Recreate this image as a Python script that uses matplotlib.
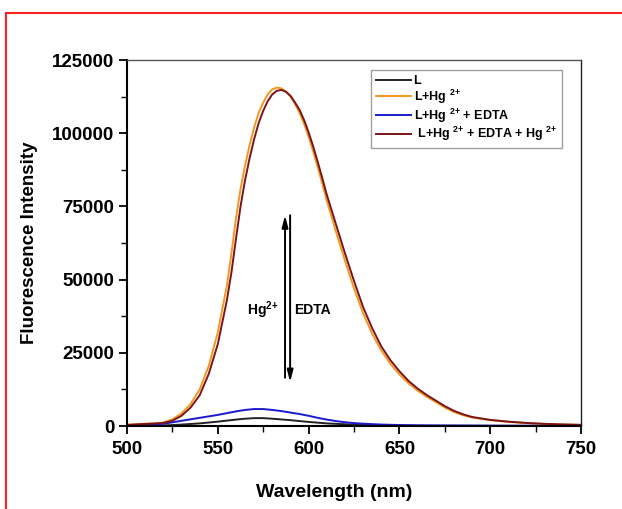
import matplotlib
matplotlib.use("Agg")
import matplotlib.pyplot as plt
from matplotlib.patches import Rectangle
from matplotlib.ticker import MultipleLocator

plt.rcParams["font.family"] = ["Liberation Sans", "DejaVu Sans"]
plt.rcParams["font.weight"] = "bold"
plt.rcParams["mathtext.fontset"] = "custom"
plt.rcParams["mathtext.rm"] = "Liberation Sans:bold"
plt.rcParams["mathtext.bf"] = "Liberation Sans:bold"
plt.rcParams["mathtext.default"] = "bf"

# spectra (wavelength in nm, intensity in a.u.)
wl_weak = [500, 505, 510, 515, 520, 525, 530, 535, 540, 545, 550, 555, 560,
           565, 570, 575, 580, 585, 590, 595, 600, 605, 610, 615, 620, 625,
           630, 635, 640, 645, 650, 655, 660, 665, 670, 675, 680, 685, 690,
           700, 710, 720, 730, 740, 750]

ligand = [0, 20, 50, 100, 200, 330, 500, 700, 900, 1200, 1500, 1850, 2200,
          2500, 2700, 2700, 2500, 2250, 2000, 1700, 1400, 1150, 900, 750, 600,
          500, 400, 320, 250, 200, 150, 120, 100, 90, 80, 70, 60, 55, 50, 40,
          30, 20, 10, 5, 0]

l_hg_edta = [100, 150, 300, 500, 800, 1250, 1800, 2300, 2800, 3300, 3800,
             4400, 5000, 5500, 5800, 5800, 5500, 5100, 4600, 4100, 3500, 2800,
             2200, 1700, 1300, 1000, 800, 650, 500, 420, 350, 300, 250, 230,
             210, 200, 200, 190, 180, 150, 140, 130, 120, 110, 100]

wl = [500, 505, 510, 515, 520, 525, 530, 535, 540, 545, 550, 555, 557.5, 560,
      562.5, 565, 567.5, 570, 572.5, 575, 577.5, 580, 582.5, 585, 587.5, 590,
      592.5, 595, 597.5, 600, 602.5, 605, 607.5, 610, 615, 620, 625, 630, 635,
      640, 645, 650, 655, 660, 665, 670, 675, 680, 685, 690, 700, 710, 720,
      730, 740, 750]

l_hg = [400, 600, 800, 900, 1200, 2300, 4300, 7500, 12500, 20500, 32000,
        48000, 59000, 71000, 81000, 89000, 96000, 102000, 107000, 110500,
        113300, 115000, 115600, 115300, 114200, 112500, 110000, 107000,
        103200, 98800, 93800, 88500, 82800, 77000, 66500, 56500, 47000, 38500,
        31500, 25800, 21300, 17600, 14600, 12100, 10000, 8200, 6300, 4800,
        3700, 2900, 2000, 1400, 1000, 700, 500, 400]

l_hg_edta_hg = [400, 550, 700, 850, 1050, 1800, 3500, 6300, 10500, 17800,
                28000, 43000, 52500, 64000, 75000, 84000, 91500, 98000, 103500,
                107700, 111000, 113300, 114500, 114800, 114200, 112800, 110500,
                108000, 104500, 100300, 95500, 90200, 84700, 79000, 69000,
                59000, 49500, 40600, 33400, 27200, 22500, 18700, 15400, 12800,
                10600, 8700, 6800, 5200, 4000, 3100, 2100, 1500, 1050, 750, 550,
                400]

labels = ["L", r"L+Hg $^{2{+}}$", r"L+Hg $^{2{+}}$ + EDTA",
          r" L+Hg $^{2{+}}$ + EDTA + Hg $^{2{+}}$"]
colors = ["#222222", "#F5961E", "#1A1ACC", "#7A1418"]

fig = plt.figure(figsize=(6.22, 5.09), dpi=100)
ax = fig.add_axes([0.2042, 0.163, 0.73, 0.719])

series = [(wl_weak, ligand), (wl, l_hg), (wl_weak, l_hg_edta),
          (wl, l_hg_edta_hg)]
for (x, y), lab, c in zip(series, labels, colors):
    ax.plot(x, y, color=c, lw=1.4, label=lab)

ax.set_xlim(500, 750)
ax.set_ylim(0, 125000)
ax.xaxis.set_major_locator(MultipleLocator(50))
ax.xaxis.set_minor_locator(MultipleLocator(25))
ax.yaxis.set_major_locator(MultipleLocator(25000))
ax.yaxis.set_minor_locator(MultipleLocator(12500))
ax.tick_params(which="major", direction="out", length=6, width=1.3,
               labelsize=13.5)
ax.tick_params(axis="x", which="major", pad=5)
ax.tick_params(axis="y", which="major", pad=3)
ax.tick_params(which="minor", direction="out", length=4, width=1.0)
for lbl in ax.get_xticklabels() + ax.get_yticklabels():
    lbl.set_fontweight("bold")

ax.spines["left"].set_linewidth(1.5)
ax.spines["bottom"].set_linewidth(1.5)
ax.spines["top"].set_linewidth(1.0)
ax.spines["top"].set_color("#555555")
ax.spines["right"].set_linewidth(1.0)
ax.spines["right"].set_color("#222222")

ax.set_xlabel("Wavelength (nm)", fontsize=14, fontweight="bold")
ax.xaxis.set_label_coords(0.457, -0.158)
ax.set_ylabel("Fluorescence Intensity", fontsize=13.5, fontweight="bold")
ax.yaxis.set_label_coords(-0.196, 0.5)

# arrows showing the on/off switching
ax.annotate("", xy=(587, 72000), xytext=(587, 16500),
            arrowprops=dict(arrowstyle="-|>,head_length=0.7,head_width=0.18",
                            color="black", lw=1.4, shrinkA=0, shrinkB=0))
ax.annotate("", xy=(589.8, 15000), xytext=(589.8, 72000),
            arrowprops=dict(arrowstyle="-|>,head_length=0.7,head_width=0.18",
                            color="black", lw=1.4, shrinkA=0, shrinkB=0))
ax.text(574.5, 39600, r"Hg$^{2{+}}$", fontsize=10, fontweight="bold",
        ha="center", va="center")
ax.text(602, 39600, "EDTA", fontsize=10, fontweight="bold",
        ha="center", va="center")

leg = ax.legend(loc="upper right", bbox_to_anchor=(0.958, 0.973),
                fontsize=9, frameon=True, fancybox=False, handlelength=2.8,
                handletextpad=0.2, labelspacing=0.05, borderpad=0.4,
                borderaxespad=0)
leg.get_frame().set_edgecolor("#888888")
leg.get_frame().set_linewidth(1.0)
for t in leg.get_texts():
    t.set_fontweight("bold")

fig.patches.append(Rectangle((6 / 622, -0.1), 1.2, 1.1 - 13 / 509,
                             transform=fig.transFigure, fill=False,
                             edgecolor="#FF2020", lw=1.5))

fig.savefig("out.png", dpi=100)
